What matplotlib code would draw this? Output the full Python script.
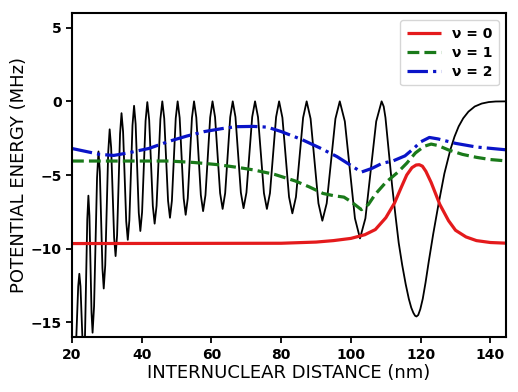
import matplotlib
matplotlib.use("Agg")
import matplotlib.pyplot as plt

# Black potential curve
pot_x = [20.8, 21.13, 21.78, 22.1, 22.43, 23.08, 23.4, 23.73, 24.38, 24.7, 25.0, 25.6, 25.9,
         26.33, 27.18, 27.6, 27.98, 28.73, 29.1, 29.53, 30.38, 30.8, 31.23, 32.08, 32.5,
         32.93, 33.78, 34.2, 34.65, 35.55, 36.0, 36.45, 37.35, 37.8, 38.25, 39.15, 39.6,
         40.1, 41.1, 41.6, 42.13, 43.18, 43.7, 44.25, 45.35, 45.9, 46.45, 47.55, 48.1,
         48.65, 49.75, 50.3, 50.88, 52.03, 52.6, 53.2, 54.4, 55.0, 55.65, 56.95, 57.6,
         58.28, 59.63, 60.3, 61.03, 62.48, 63.2, 63.93, 65.38, 66.1, 66.88, 68.43, 69.2,
         70.03, 71.68, 72.5, 73.35, 75.05, 75.9, 76.78, 78.53, 79.4, 80.35, 82.25, 83.2,
         84.23, 86.28, 87.3, 88.43, 90.68, 91.8, 93.05, 95.55, 96.8, 98.25, 101.15, 102.6,
         104.15, 107.25, 108.8, 109.4, 109.9, 110.9, 111.8, 112.8, 113.7, 114.7, 115.7,
         116.6, 117.3, 117.9, 118.4, 118.8, 119.3, 119.9, 120.6, 121.4, 122.3, 123.6,
         125.1, 126.8, 128.5, 129.7, 130.9, 132.2, 133.7, 135.5, 137.5, 139.5, 141.5, 145.0]
pot_y = [-17.5, -16.65, -12.55, -11.7, -12.55, -16.65, -17.5, -15.88, -8.02, -6.4, -7.76, -14.34, -15.7,
         -13.9, -5.2, -3.4, -4.76, -11.34, -12.7, -11.12, -3.48, -1.9, -3.16, -9.24, -10.5,
         -9.08, -2.22, -0.8, -2.06, -8.14, -9.4, -8.07, -1.63, -0.3, -1.54, -7.56, -8.8,
         -7.52, -1.33, -0.05, -1.25, -7.1, -8.3, -7.09, -1.21, 0.0, -1.15, -6.75, -7.9,
         -6.75, -1.15, 0.0, -1.12, -6.58, -7.7, -6.58, -1.12, 0.0, -1.09, -6.36, -7.45,
         -6.36, -1.09, 0.0, -1.07, -6.23, -7.3, -6.23, -1.07, 0.0, -1.06, -6.19, -7.25,
         -6.19, -1.06, 0.0, -1.07, -6.23, -7.3, -6.23, -1.07, 0.0, -1.11, -6.49, -7.6,
         -6.49, -1.11, 0.0, -1.18, -6.92, -8.1, -6.92, -1.18, 0.0, -1.36, -7.94, -9.3,
         -7.94, -1.36, 0.0, -0.35, -1.1, -3.5, -5.7, -7.8, -9.6, -11.1, -12.4,
         -13.4, -14.0, -14.35, -14.55, -14.6, -14.5, -14.1, -13.4, -12.3, -10.9, -9.0,
         -7.0, -4.9, -3.3, -2.4, -1.7, -1.15, -0.7, -0.35, -0.15, -0.05, -0.01, 0.0]

# nu = 0
v0_x = [20, 80, 90, 95, 100, 104, 107, 110, 112.5, 114.5, 116, 117.5, 118.7, 119.6, 120.5, 121.5, 123, 125.5, 128, 130, 133, 136, 140, 145]
v0_y = [-9.65, -9.63, -9.55, -9.45, -9.3, -9.05, -8.7, -7.9, -6.9, -5.8, -5.0, -4.5, -4.32, -4.3, -4.4, -4.75, -5.5, -7.0, -8.1, -8.75, -9.2, -9.45, -9.58, -9.63]

# nu = 1
v1_x = [20, 30, 40, 48, 55, 62, 68, 72, 78, 84, 88, 92, 95, 98, 100, 103, 105, 107, 110, 113.5, 116, 118.5, 121, 123, 125, 128, 132, 136, 140, 145]
v1_y = [-4.05, -4.05, -4.05, -4.05, -4.15, -4.3, -4.5, -4.65, -4.95, -5.4, -5.8, -6.25, -6.4, -6.5, -6.8, -7.35, -7.0, -6.3, -5.5, -4.8, -4.2, -3.5, -3.05, -2.9, -3.0, -3.3, -3.6, -3.8, -3.95, -4.05]

# nu = 2
v2_x = [20, 24, 28, 32, 36, 42, 48, 53, 58, 63, 67, 72, 76, 80, 86, 91, 96, 100, 103, 106, 109, 112, 115.5, 118, 120, 122.5, 125, 130, 136, 145]
v2_y = [-3.2, -3.4, -3.6, -3.67, -3.5, -3.2, -2.7, -2.35, -2.05, -1.85, -1.72, -1.7, -1.75, -2.05, -2.6, -3.15, -3.75, -4.35, -4.8, -4.55, -4.2, -4.05, -3.7, -3.2, -2.75, -2.45, -2.55, -2.85, -3.1, -3.3]

labels = ["ν = 0", "ν = 1", "ν = 2"]
x_ticks = [20, 40, 60, 80, 100, 120, 140]
y_ticks = [-15, -10, -5, 0, 5]

fig = plt.figure(figsize=(5.18, 3.92), dpi=100)
ax = fig.add_axes([0.139, 0.140, 0.838, 0.827])

ax.plot(pot_x, pot_y, color="black", lw=1.3)
ax.plot(v0_x, v0_y, color="#e41a1c", lw=2.3, label=labels[0], solid_capstyle="butt")
ax.plot(v1_x, v1_y, color="#1a7a1a", lw=2.3, ls="--", label=labels[1])
ax.plot(v2_x, v2_y, color="#0a14c8", lw=2.3, ls="-.", label=labels[2])

ax.set_xlim(20, 144.5)
ax.set_ylim(-16, 6)
ax.set_xticks(x_ticks)
ax.set_yticks(y_ticks)
ax.tick_params(axis="both", labelsize=10, width=1.3, length=4)
for lbl in ax.get_xticklabels() + ax.get_yticklabels():
    lbl.set_fontweight("bold")
for sp in ax.spines.values():
    sp.set_linewidth(1.5)

ax.set_xlabel("INTERNUCLEAR DISTANCE (nm)", fontsize=13, labelpad=2)
ax.set_ylabel("POTENTIAL ENERGY (MHz)", fontsize=13, labelpad=2)

leg = ax.legend(loc="upper right", prop={"weight": "bold", "size": 10}, handlelength=2.4,
                borderpad=0.5, labelspacing=0.35, fancybox=True)

fig.savefig("out.png", dpi=100)
